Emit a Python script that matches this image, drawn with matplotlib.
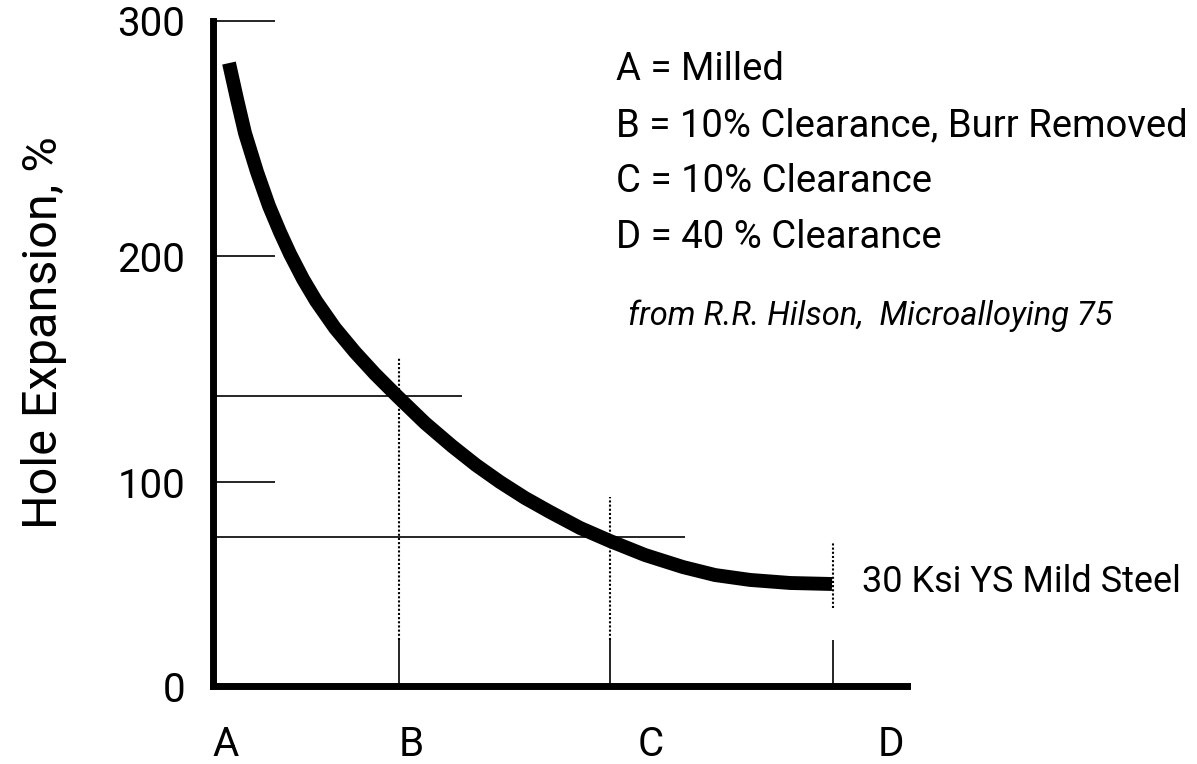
import numpy as np
import matplotlib.pyplot as plt

plt.rcParams['font.family'] = ['Roboto', 'DejaVu Sans']

# x categories and where the drawing puts them (A-B spacing = 1)
cats = ["A", "B", "C", "D"]
cat_pos = [0.0, 1.0, 2.134, 3.333]
label_pos = [0.07, 1.065, 2.355, 3.645]

# the hand drawn y axis: tick values and their height above the x axis (px)
y_ticks = [0, 100, 200, 300]
y_tick_px = [0, 204, 430, 665]

# curve
curve_x = [0.086, 0.129, 0.172, 0.237, 0.301, 0.360, 0.414, 0.484, 0.554,
           0.656, 0.763, 0.871, 0.989, 1.140, 1.285, 1.414, 1.543, 1.677,
           1.812, 1.973, 2.134, 2.323, 2.527, 2.699, 2.887, 3.102, 3.328]
curve_y = [282.1, 266.8, 252.3, 235.7, 221.3, 210.2, 200.9, 189.8, 180.1,
           168.1, 157.5, 147.8, 138.1, 126.1, 115.9, 107.5, 100.0, 92.2,
           85.3, 77.5, 71.1, 64.2, 58.3, 54.4, 52.0, 50.5, 50.0]

# read-off lines at B and C
ref_y = [138, 73]
ref_end = [1.34, 2.54]

# dotted drop lines at B, C, D
drop_top = [155, 92.6, 70]
drop_bottom = [22.5, 22.5, 38]

legend_lines = ["A = Milled",
                "B = 10% Clearance, Burr Removed",
                "C = 10% Clearance",
                "D = 40 % Clearance"]
source = "from R.R. Hilson,  Microalloying 75"
series_name = "30 Ksi YS Mild Steel"

W, H = 1197, 764
fig = plt.figure(figsize=(W / 100, H / 100), dpi=100)
ax = fig.add_axes([213 / W, 78 / H, 694 / W, 665 / H])

# piecewise linear scale, same as the drawn axis
xp = [-100] + y_ticks + [400]
fp = [-204] + y_tick_px + [900]
def fwd(v):
    return np.interp(v, xp, fp)
def inv(p):
    return np.interp(p, fp, xp)
ax.set_yscale('function', functions=(fwd, inv))
ax.set_ylim(0, 300)
ax.set_xlim(0, 3.731)

for s in ['top', 'right']:
    ax.spines[s].set_visible(False)
for s in ['left', 'bottom']:
    ax.spines[s].set_linewidth(5)

ax.plot(curve_x, curve_y, color='k', lw=10, solid_capstyle='butt', solid_joinstyle='round')
ax.hlines(ref_y, 0, ref_end, colors='k', lw=1.2)
ax.vlines(cat_pos[1:], drop_bottom, drop_top, colors='k', lw=1.5, linestyles=(0, (1, 1)))

ax.set_yticks(y_ticks, labels=[str(v) for v in y_ticks])
ax.tick_params(axis='y', direction='in', length=44.6, width=1.2, pad=20, labelsize=29)

ax.set_xticks(cat_pos)
ax.tick_params(axis='x', which='major', direction='in', length=33, width=1.2, labelbottom=False)
ax.set_xticks(label_pos, labels=cats, minor=True)
ax.tick_params(axis='x', which='minor', length=0, pad=28, labelsize=29)

ax.set_ylabel("Hole Expansion, %", fontsize=35, va='center')
ax.yaxis.set_label_coords(-0.2435, 0.5316)

for i, line in enumerate(legend_lines):
    fig.text(616 / W, 1 - (80 + 56 * i) / H, line, fontsize=27.5, va='baseline', ha='left')
fig.text(628 / W, 1 - 325 / H, source, fontsize=23.5, style='italic', va='baseline', ha='left')
fig.text(862 / W, 1 - 592 / H, series_name, fontsize=26, va='baseline', ha='left')

fig.savefig('out.png', dpi=100)
